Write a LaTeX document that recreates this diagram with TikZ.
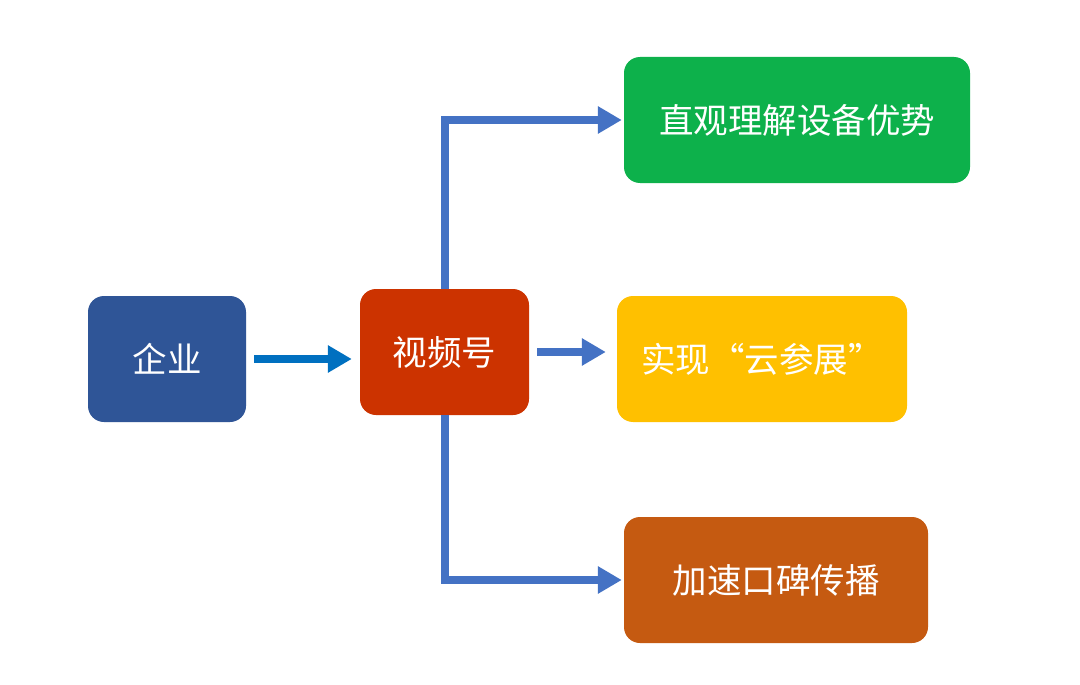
\documentclass[tikz,border=0pt]{standalone}
\usepackage{fontspec}
\setmainfont{Noto Sans CJK SC}
\usetikzlibrary{arrows.meta}
\definecolor{cBlue}{HTML}{2F5597}
\definecolor{cRed}{HTML}{CC3300}
\definecolor{cGreen}{HTML}{0DB14B}
\definecolor{cYellow}{HTML}{FFC000}
\definecolor{cOrange}{HTML}{C55A11}
\definecolor{aBlue}{HTML}{0070C0}
\definecolor{lBlue}{HTML}{4472C4}
\tikzset{
  box/.style={rounded corners=16pt, inner sep=0pt, text=white, font=\fontsize{34.5}{34.5}\selectfont},
  conn/.style={line width=8pt, -{Triangle[length=24pt,width=26pt]}},
}
\begin{document}
\begin{tikzpicture}[x=1pt,y=-1pt]
\useasboundingbox (0,0) rectangle (1080,685);
\fill[white] (0,0) rectangle (1080,685);
\node[box, fill=cBlue, minimum width=158pt, minimum height=126pt] (ent) at (167,359) {企业};
\node[box, fill=cRed, minimum width=169pt, minimum height=126pt] (vid) at (444.5,352) {视频号};
\node[box, fill=cGreen, minimum width=346pt, minimum height=126pt] (green) at (797,120) {直观理解设备优势};
\node[box, fill=cYellow, minimum width=290pt, minimum height=126pt] (yellow) at (762,359) {\hspace*{0pt}实现“云参展”};
\node[box, fill=cOrange, minimum width=304pt, minimum height=126pt] (orange) at (776,580) {加速口碑传播};
\draw[conn, aBlue, shorten <=8pt, shorten >=8pt] (ent.east) -- (ent.east -| vid.west);
\draw[conn, lBlue, shorten <=8pt, shorten >=11pt] (vid.east) -- (vid.east -| yellow.west);
\draw[conn, lBlue, shorten >=2pt] (vid.north) |- (green.west);
\draw[conn, lBlue, shorten >=2pt] (vid.south) |- (orange.west);
\end{tikzpicture}
\end{document}
